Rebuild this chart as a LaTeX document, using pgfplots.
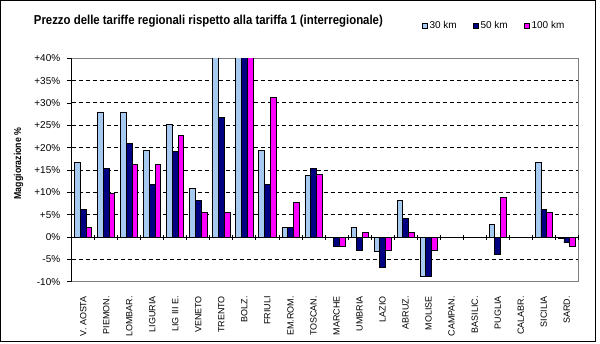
\documentclass[border=0pt]{standalone}
\usepackage{fontspec}
\setmainfont{Liberation Sans}
\newfontfamily\condfont[FakeStretch=0.88]{Liberation Sans}
\usepackage{pgfplots}
\pgfplotsset{compat=1.18}
\definecolor{c30}{HTML}{A6CAF0}
\definecolor{c50}{HTML}{000080}
\definecolor{c100}{HTML}{FF00FF}
\definecolor{boxgray}{HTML}{808080}
\pgfplotsset{
  sqlegend/.style={legend image code/.code={\draw[##1,draw=black,line width=0.7bp] (0bp,-2.6bp) rectangle (5.2bp,2.6bp);}},
}
\begin{document}
\begin{tikzpicture}[x=1bp,y=1bp]
\path[use as bounding box] (0,0) rectangle (600,343);
\draw[black, line width=1bp] (0.5,1.5) rectangle (595.5,342.5);

\begin{axis}[
  at={(71.7bp,61.3bp)}, anchor=south west,
  scale only axis, width=506.6bp, height=223.4bp,
  xmin=-0.5, xmax=21.5, ymin=-10, ymax=40,
  ybar=0bp, bar width=5.7bp,
  axis line style={boxgray, line width=1bp},
  xtick={0,...,21},
  xticklabels={V. AOSTA,PIEMON.,LOMBAR.,LIGURIA,LIG III E.,VENETO,TRENTO,BOLZ.,FRIULI,EM.ROM.,TOSCAN.,MARCHE,UMBRIA,LAZIO,ABRUZ.,MOLISE,CAMPAN.,BASILIC.,PUGLIA,CALABR.,SICILIA,SARD.},
  xticklabel style={rotate=90, anchor=east, font=\fontsize{9}{10}\selectfont},
  xticklabel shift=11bp,
  major tick length=0pt,
  ytick={-5,5,10,15,20,25,30,35}, yticklabels={},
  ymajorgrids,
  major grid style={black, dash pattern=on 4bp off 3bp, line width=1bp},
  title={Prezzo delle tariffe regionali rispetto alla tariffa 1 (interregionale)},
  title style={at={(rel axis cs:-0.075,1.1267)}, anchor=base west, inner sep=0pt,
    font=\condfont\bfseries\fontsize{13}{15}\selectfont},
  legend columns=3,
  legend style={at={(rel axis cs:0.6905,1.146)}, anchor=west, draw=none, fill=none,
    inner sep=0pt, font=\fontsize{10}{12}\selectfont,
    /tikz/every even column/.style={column sep=14bp}},
]
\addplot[fill=c30, draw=black, line width=0.8bp, sqlegend] coordinates {
 (0,16.7) (1,28.0) (2,28.0) (3,19.3) (4,25.1) (5,10.9) (6,45) (7,45) (8,19.3)
 (9,2.2) (10,13.8) (12,2.2) (13,-3.3) (14,8.2) (15,-8.9) (18,2.9) (20,16.7) (21,-0.4)};
\addplot[fill=c50, draw=black, line width=0.8bp, sqlegend] coordinates {
 (0,6.2) (1,15.3) (2,20.9) (3,11.8) (4,19.1) (5,8.1) (6,26.7) (7,45) (8,11.8)
 (9,2.2) (10,15.3) (11,-2.2) (12,-3.1) (13,-6.9) (14,4.2) (15,-8.8) (18,-4.0) (20,6.2) (21,-1.3)};
\addplot[fill=c100, draw=black, line width=0.8bp, sqlegend] coordinates {
 (0,2.2) (1,9.8) (2,16.2) (3,16.2) (4,22.7) (5,5.6) (6,5.6) (7,45) (8,31.3)
 (9,7.8) (10,14.0) (11,-2.2) (12,1.1) (13,-3.1) (14,1.1) (15,-3.1) (18,8.9) (20,5.6) (21,-2.0)};
\legend{30 km,50 km,100 km}
\end{axis}

\begin{axis}[
  at={(71.7bp,61.3bp)}, anchor=south west,
  scale only axis, width=506.6bp, height=223.4bp,
  xmin=-0.5, xmax=21.5, ymin=-10, ymax=40,
  axis x line=middle, axis y line=left,
  axis line style={black, line width=1bp, -},
  every inner x axis line/.append style={-},
  every outer y axis line/.append style={-},
  xtick={-0.5,0.5,...,21.5}, xticklabels={},
  xtick align=center, ytick align=outside,
  major tick length=5bp,
  tick style={black, line width=0.9bp},
  ytick={-10,-5,...,40},
  yticklabels={-10\%,-5\%,0\%,+5\%,+10\%,+15\%,+20\%,+25\%,+30\%,+35\%,+40\%},
  yticklabel style={font=\fontsize{10}{12}\selectfont, xshift=-3bp},
  ylabel={Maggiorazione \%},
  ylabel style={at={(rel axis cs:-0.105,0.529)}, anchor=center, rotate=0,
    font=\condfont\bfseries\fontsize{10}{12}\selectfont},
]
\end{axis}
\end{tikzpicture}
\end{document}
